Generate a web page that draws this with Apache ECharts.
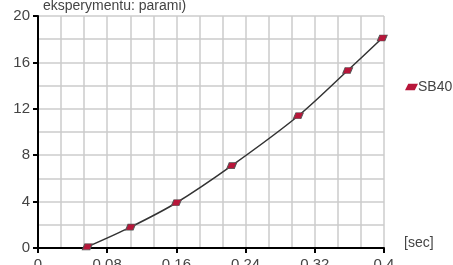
<!DOCTYPE html>
<html lang="pl">
<head>
    <meta charset="UTF-8">
    <title>SB40</title>
    <script src="https://cdn.jsdelivr.net/npm/echarts@6/dist/echarts.min.js"></script>
</head>
<body style="margin:0">
<div id="chart" style="width:453px;height:265px"></div>
<script type="text/javascript">
    // dane
    var seriesName = 'SB40';
    var czas = [0.057, 0.107, 0.160, 0.224, 0.301, 0.358, 0.398];
    var wartosci = [0.1, 1.8, 3.9, 7.1, 11.4, 15.3, 18.1];
    var xTicks = [0, 0.08, 0.16, 0.24, 0.32, 0.4];
    var yTicks = [0, 4, 8, 12, 16, 20];

    var pts = [];
    for (var i = 0; i < czas.length; i++) {
        pts.push([czas[i], wartosci[i]]);
    }
    var romb = 'path://M3,0 L12,0 L9,6 L0,6 Z';

    var myChart = echarts.init(document.getElementById('chart'));
    var option = {
        animation: false,
        textStyle: {fontFamily: 'Liberation Sans'},
        title: {
            text: 'eksperymentu: parami)',
            left: 38, top: -6,
            textStyle: {fontSize: 14, fontWeight: 'normal', color: '#444'}
        },
        legend: {
            data: [{name: seriesName, icon: romb}],
            left: 405, top: 80, padding: 0,
            itemWidth: 13, itemHeight: 7, itemGap: 2,
            itemStyle: {borderWidth: 0},
            textStyle: {fontSize: 14, color: '#444', padding: [0, 0, 0, -5]}
        },
        grid: {left: 38, right: 69, top: 16, bottom: 17, containLabel: false, outerBoundsMode: 'none'},
        xAxis: {
            type: 'value', min: 0, max: 0.4, interval: 0.08,
            name: '[sec]', nameLocation: 'end', nameGap: 20,
            nameTextStyle: {fontSize: 14, color: '#444', verticalAlign: 'bottom', padding: [0, 0, -2, 0]},
            axisLine: {lineStyle: {color: '#000', width: 2}},
            axisTick: {show: true, length: 5, lineStyle: {color: '#000', width: 2}},
            axisLabel: {
                fontSize: 15, color: '#444', margin: 9,
                formatter: function (v) { return String(parseFloat(v.toFixed(2))); }
            },
            splitLine: {show: true, lineStyle: {color: '#cccccc', width: 1.5}},
            minorTick: {show: false, splitNumber: 3},
            minorSplitLine: {show: true, lineStyle: {color: '#cccccc', width: 1.5}}
        },
        yAxis: {
            type: 'value', min: 0, max: 20, interval: 4,
            axisLine: {show: true, lineStyle: {color: '#000', width: 2}},
            axisTick: {show: true, length: 5, lineStyle: {color: '#000', width: 2}},
            axisLabel: {fontSize: 15, color: '#444', margin: 8},
            splitLine: {show: true, lineStyle: {color: '#cccccc', width: 1.5}},
            minorTick: {show: false, splitNumber: 2},
            minorSplitLine: {show: true, lineStyle: {color: '#cccccc', width: 1.5}}
        },
        series: [{
            name: seriesName,
            type: 'line',
            data: pts,
            smooth: 0.3,
            symbol: romb,
            symbolSize: [10, 6],
            lineStyle: {color: '#333', width: 1.5},
            itemStyle: {color: '#b8163a', borderColor: '#555', borderWidth: 0.8}
        }]
    };
    myChart.setOption(option);
</script>
</body>
</html>
